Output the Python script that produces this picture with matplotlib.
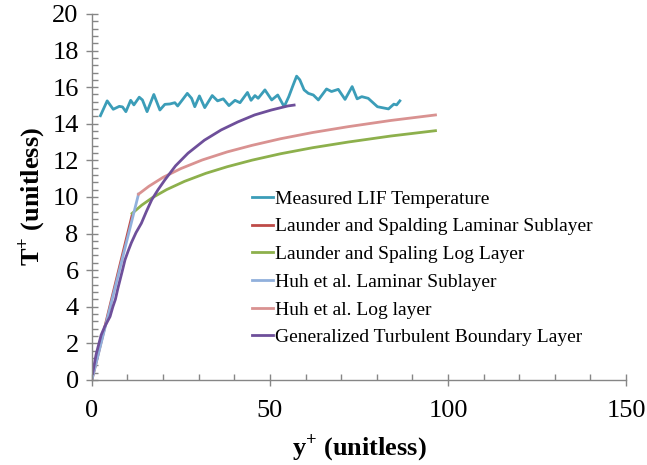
import matplotlib
matplotlib.use("Agg")
import matplotlib.pyplot as plt
from matplotlib.ticker import MultipleLocator

plt.rcParams['font.family'] = ['Liberation Serif', 'DejaVu Serif']
plt.rcParams['mathtext.fontset'] = 'custom'
plt.rcParams['mathtext.rm'] = 'Liberation Serif'
plt.rcParams['mathtext.bf'] = 'Liberation Serif:bold'

# Measured LIF temperature profile
lif_y = [2.4, 4.3, 6.0, 7.7, 8.6, 9.55, 10.9, 11.8, 13.3, 14.2, 15.5, 17.4, 19.1,
         20.5, 21.9, 23.3, 24.1, 25.4, 26.8, 28.0, 28.9, 30.2, 31.7, 33.8, 35.3,
         36.9, 38.5, 40.2, 41.6, 43.7, 44.7, 45.8, 46.7, 48.6, 50.5, 52.2, 54.0,
         55.3, 56.5, 57.5, 58.4, 59.6, 60.8, 62.2, 63.6, 65.9, 67.3, 69.2, 71.1,
         73.1, 74.5, 75.8, 77.6, 80.2, 83.3, 84.8, 85.6, 86.5]
lif_t = [14.44, 15.25, 14.79, 14.95, 14.92, 14.66, 15.28, 15.03, 15.45, 15.30,
         14.66, 15.60, 14.75, 15.06, 15.08, 15.15, 14.97, 15.30, 15.66, 15.39,
         14.93, 15.52, 14.88, 15.54, 15.25, 15.36, 14.99, 15.28, 15.15, 15.71,
         15.28, 15.54, 15.39, 15.85, 15.30, 15.57, 14.93, 15.48, 16.10, 16.60,
         16.40, 15.85, 15.66, 15.57, 15.30, 15.90, 15.76, 15.88, 15.33, 16.03,
         15.36, 15.48, 15.39, 14.93, 14.81, 15.07, 15.03, 15.25]

# Launder and Spalding laminar sublayer
ls_lam_y = [0.0, 11.3]
ls_lam_t = [0.0, 9.00]

# Launder and Spalding log layer
ls_log_y = [11.3, 14.0, 17.0, 21.0, 26.0, 32.0, 38.0, 45.0, 53.0, 62.0, 72.0, 84.0, 96.5]
ls_log_t = [9.10, 9.55, 9.96, 10.40, 10.85, 11.29, 11.65, 12.01, 12.36, 12.69,
            13.00, 13.33, 13.62]

# Huh et al. laminar sublayer
huh_lam_y = [0.0, 13.1]
huh_lam_t = [0.0, 10.15]

# Huh et al. log layer
huh_log_y = [13.1, 16.0, 20.0, 25.0, 31.0, 38.0, 45.0, 53.0, 62.0, 72.0, 84.0, 96.5]
huh_log_t = [10.15, 10.58, 11.07, 11.55, 12.02, 12.46, 12.82, 13.18, 13.52,
             13.84, 14.18, 14.48]

# Generalized turbulent boundary layer
gen_y = [0.2, 1.2, 2.6, 3.6, 5.1, 5.9, 6.6, 7.3, 7.9, 8.6, 9.3, 10.2, 11.1,
         12.4, 13.9, 15.3, 16.8, 18.6, 20.5, 23.5, 27.0, 31.6, 36.3, 41.0,
         45.7, 50.4, 55.0, 56.8]
gen_t = [0.35, 1.40, 2.45, 2.91, 3.46, 4.00, 4.40, 5.00, 5.46, 6.00, 6.56,
         7.05, 7.50, 8.05, 8.56, 9.20, 9.84, 10.40, 10.93, 11.70, 12.39,
         13.10, 13.66, 14.10, 14.48, 14.75, 14.97, 15.02]

fig = plt.figure(figsize=(6.47, 4.65), dpi=100)
ax = fig.add_axes([0.142, 0.183, 0.8255, 0.787])

lw = 2.0
ax.plot(lif_y, lif_t, color='#3b9db8', lw=lw, label='Measured LIF Temperature',
        solid_joinstyle='round')
ax.plot(ls_lam_y, ls_lam_t, color='#be4b48', lw=lw,
        label='Launder and Spalding Laminar Sublayer')
ax.plot(ls_log_y, ls_log_t, color='#8db04c', lw=lw,
        label='Launder and Spaling Log Layer')
ax.plot(huh_lam_y, huh_lam_t, color='#91b0dc', lw=lw,
        label='Huh et al. Laminar Sublayer')
ax.plot(huh_log_y, huh_log_t, color='#d99291', lw=lw,
        label='Huh et al. Log layer')
ax.plot(gen_y, gen_t, color='#6e4f9a', lw=lw,
        label='Generalized Turbulent Boundary Layer', solid_joinstyle='round')

ax.set_xlim(0, 150)
ax.set_ylim(0, 20)
ax.xaxis.set_major_locator(MultipleLocator(50))
ax.xaxis.set_minor_locator(MultipleLocator(10))
ax.yaxis.set_major_locator(MultipleLocator(2))
ax.yaxis.set_minor_locator(MultipleLocator(0.4))

for side in ('top', 'right'):
    ax.spines[side].set_visible(False)
for side in ('left', 'bottom'):
    ax.spines[side].set_color('#868686')
    ax.spines[side].set_linewidth(1.0)

ax.tick_params(which='major', direction='inout', length=9, width=1.0,
               color='#868686', labelsize=19, pad=5)
ax.tick_params(which='minor', direction='in', length=4.5, width=1.0,
               color='#868686')
ax.tick_params(axis='x', which='major', pad=10)

ax.set_xlabel(r'y$^{\mathbf{+}}$ (unitless)', fontsize=19, fontweight='bold',
              labelpad=7)
ax.set_ylabel(r'T$^{\mathbf{+}}$ (unitless)', fontsize=19, fontweight='bold',
              labelpad=4)

leg = ax.legend(loc='upper left', bbox_to_anchor=(0.285, 0.54), frameon=False,
                fontsize=14, handlelength=1.1, handletextpad=0.1,
                labelspacing=0.52, borderaxespad=0)

fig.savefig('out.png', dpi=100)
